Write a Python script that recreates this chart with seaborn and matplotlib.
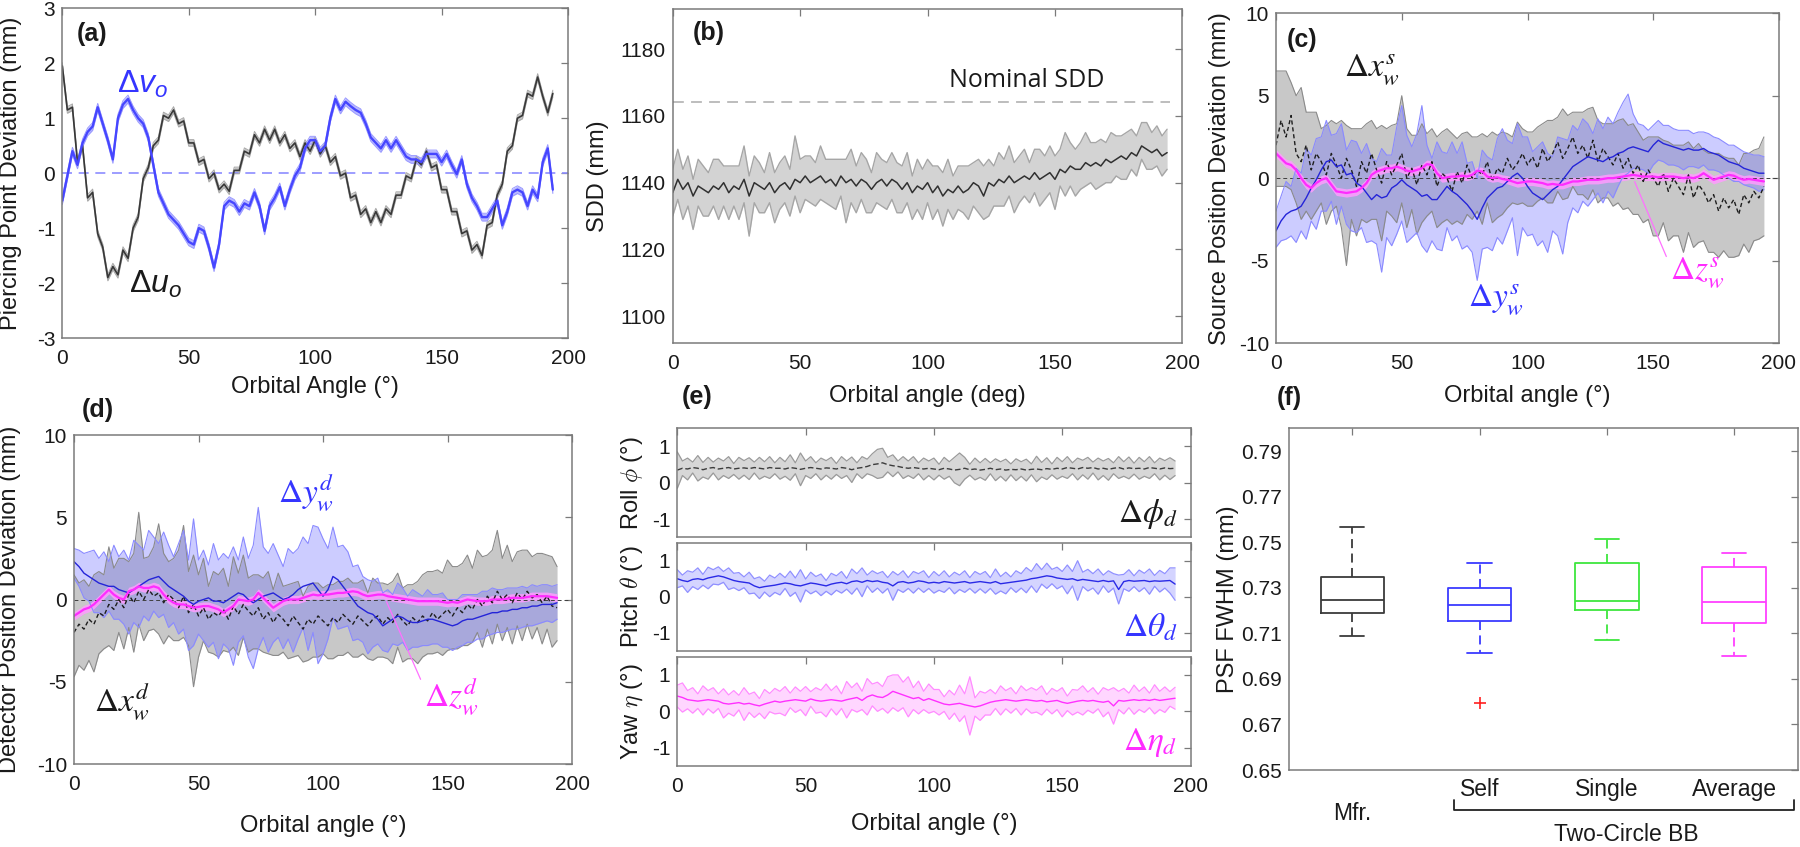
import numpy as np
import matplotlib
matplotlib.use("Agg")
import matplotlib.pyplot as plt
import seaborn as sns

# orbital angle grid shared by all traces (deg)
ANGLE = np.arange(0, 196, 2)

# (a) piercing point deviation (mm)
DU_O = [1.95, 1.15, 1.2, 0.2, 0.5, -0.45, -0.35, -1.1, -1.35, -1.9,
        -1.7, -1.85, -1.4, -1.55, -1.0, -0.8, -0.1, 0.1, 0.5, 0.6,
        1.05, 1.0, 1.15, 0.9, 0.95, 0.55, 0.55, 0.2, 0.25, -0.1,
        0.0, -0.3, -0.2, -0.33, 0.05, 0.05, 0.4, 0.35, 0.7, 0.55,
        0.8, 0.6, 0.8, 0.55, 0.7, 0.45, 0.55, 0.3, 0.55, 0.4,
        0.6, 0.35, 0.5, 0.2, 0.3, -0.05, 0.0, -0.45, -0.4, -0.75,
        -0.65, -0.9, -0.7, -0.9, -0.65, -0.75, -0.4, -0.4, -0.05, -0.1,
        0.25, 0.15, 0.4, 0.1, 0.15, -0.3, -0.3, -0.7, -0.7, -1.1,
        -1.05, -1.4, -1.3, -1.5, -0.95, -0.9, -0.4, -0.2, 0.4, 0.5,
        1.0, 1.05, 1.45, 1.4, 1.75, 1.4, 1.1, 1.45]
DV_O = [-0.5, -0.05, 0.4, 0.15, 0.55, 0.75, 0.85, 1.2, 0.9, 0.6,
        0.25, 1.0, 1.25, 1.35, 1.15, 1.0, 0.9, 0.65, 0.15, -0.35,
        -0.55, -0.75, -0.85, -0.95, -1.1, -1.25, -1.3, -1.0, -1.05, -1.35,
        -1.72, -1.3, -0.6, -0.5, -0.55, -0.7, -0.55, -0.6, -0.35, -0.6,
        -1.05, -0.6, -0.45, -0.25, -0.6, -0.3, -0.05, 0.1, 0.45, 0.6,
        0.6, 0.4, 0.5, 1.0, 1.35, 1.15, 1.3, 1.22, 1.15, 1.1,
        0.9, 0.65, 0.55, 0.45, 0.6, 0.45, 0.6, 0.45, 0.3, 0.25,
        0.25, 0.2, 0.35, 0.35, 0.35, 0.2, 0.35, 0.15, -0.02, 0.25,
        -0.2, -0.45, -0.6, -0.8, -0.8, -0.65, -0.5, -0.95, -0.7, -0.35,
        -0.3, -0.35, -0.6, -0.3, -0.45, 0.2, 0.45, -0.3]
DU_BAND = 0.06
DV_BAND = 0.07

# (b) source-detector distance (mm)
SDD_MEAN = [1137, 1141, 1138, 1140, 1136, 1139, 1138, 1137, 1139, 1138,
            1140, 1137, 1139, 1138, 1141, 1136, 1140, 1139, 1138, 1140,
            1137, 1139, 1140, 1138, 1141, 1140, 1142, 1140, 1141, 1142,
            1140, 1141, 1139, 1142, 1140, 1141, 1139, 1141, 1140, 1138,
            1140, 1141, 1139, 1141, 1140, 1138, 1140, 1137, 1139, 1138,
            1140, 1137, 1139, 1136, 1138, 1137, 1139, 1137, 1138, 1140,
            1139, 1136, 1140, 1139, 1141, 1140, 1142, 1140, 1141, 1142,
            1141, 1143, 1141, 1142, 1143, 1141, 1144, 1143, 1145, 1144,
            1144, 1146, 1145, 1146, 1145, 1147, 1146, 1147, 1148, 1147,
            1149, 1148, 1151, 1150, 1149, 1150, 1148, 1149]
SDD_UP = [7, 9, 6, 8, 5, 8, 7, 6, 8, 9,
          5, 8, 6, 7, 10, 6, 8, 7, 5, 9,
          6, 7, 8, 6, 13, 7, 6, 8, 5, 9,
          7, 6, 8, 5, 7, 9, 6, 8, 7, 5,
          9, 6, 7, 8, 6, 7, 9, 5, 8, 6,
          7, 8, 6, 7, 9, 5, 6, 8, 7, 6,
          8, 9, 7, 6, 8, 7, 9, 6, 7, 8,
          5, 7, 9, 6, 8, 7, 6, 12, 7, 6,
          8, 9, 7, 6, 8, 5, 9, 7, 6, 8,
          7, 6, 7, 8, 6, 7, 6, 7]
SDD_DN = [7, 6, 9, 7, 10, 6, 8, 7, 6, 9,
          7, 8, 6, 9, 7, 12, 6, 8, 7, 6,
          9, 7, 6, 8, 5, 9, 7, 6, 8, 7,
          6, 8, 7, 6, 12, 7, 8, 6, 9, 7,
          6, 8, 7, 6, 9, 7, 6, 8, 7, 9,
          6, 8, 7, 9, 6, 8, 7, 6, 9, 7,
          8, 7, 10, 6, 8, 7, 6, 9, 7, 6,
          7, 6, 8, 7, 6, 9, 5, 7, 6, 8,
          6, 7, 5, 8, 6, 7, 6, 5, 7, 6,
          5, 6, 4, 6, 5, 5, 6, 5]
NOMINAL_SDD = 1164.2

# (c) source position deviation (mm)
SX_MEAN = [2.0, 3.5, 2.5, 3.8, 1.5, 1.0, 2.0, 0.5, 1.5, 1.0,
           0.2, 1.5, 0.8, 0.0, 1.2, 0.5, -0.5, 1.0, 0.3, 1.5,
           0.5, -0.3, 1.0, 0.2, 0.8, 1.5, 0.0, 0.6, -0.4, 0.8,
           0.2, 1.0, -0.5, 0.3, 0.0, -0.8, 0.4, -0.3, 0.8, 0.0,
           0.5, 0.2, 1.0, -0.2, 0.6, 0.3, 1.2, 0.5, 0.9, 1.5,
           0.8, 1.3, 0.6, 1.8, 1.0, 1.5, 2.2, 1.2, 1.8, 2.5,
           1.5, 2.0, 1.2, 2.3, 1.0, 1.8, 1.3, 0.8, 1.5, 0.6,
           1.2, 0.3, 0.8, -0.2, 0.5, 0.0, -0.5, 0.3, -0.8, 0.0,
           -0.5, -1.0, 0.2, -1.2, -0.4, -0.8, -1.5, -1.0, -2.0, -1.2,
           -1.8, -1.3, -2.2, -1.0, -1.5, -0.8, -1.2, -0.5]
SX_UP = [4.5, 3.0, 4.0, 2.0, 3.5, 4.5, 2.0, 3.5, 2.5, 2.0,
         3.0, 2.0, 2.5, 3.5, 2.0, 2.5, 3.5, 2.0, 3.0, 2.0,
         2.5, 3.5, 2.0, 3.0, 2.5, 3.5, 3.0, 2.0, 3.0, 2.5,
         2.5, 2.0, 3.0, 2.5, 3.0, 3.5, 2.0, 3.0, 2.0, 2.5,
         2.0, 2.5, 1.5, 3.0, 2.0, 2.5, 1.5, 2.0, 2.5, 1.5,
         2.0, 1.5, 2.5, 1.5, 2.5, 2.0, 1.5, 3.0, 2.0, 1.5,
         2.5, 2.0, 3.0, 2.0, 2.5, 1.5, 2.0, 2.5, 2.0, 3.0,
         2.0, 3.0, 2.0, 2.5, 2.0, 2.5, 3.0, 2.0, 3.0, 2.0,
         2.5, 3.0, 2.0, 3.0, 2.5, 2.5, 3.0, 2.5, 3.5, 2.5,
         3.0, 2.5, 3.0, 2.5, 3.0, 2.5, 3.0, 3.0]
SX_DN = [2.5, 4.0, 3.0, 4.5, 3.0, 3.5, 4.0, 3.0, 3.5, 2.5,
         3.0, 3.5, 2.5, 3.0, 6.5, 3.0, 3.0, 3.5, 3.0, 4.0,
         3.0, 3.5, 3.0, 2.5, 3.5, 3.0, 3.0, 2.5, 3.0, 3.5,
         2.5, 3.0, 2.5, 3.0, 2.5, 2.0, 3.0, 2.5, 3.0, 2.5,
         2.5, 3.0, 2.5, 2.5, 3.0, 2.5, 3.0, 2.0, 2.5, 3.0,
         2.5, 3.0, 2.0, 3.0, 2.5, 3.0, 3.0, 2.5, 3.0, 3.0,
         2.5, 3.0, 2.5, 3.0, 2.5, 3.0, 2.5, 2.5, 3.0, 2.5,
         3.0, 2.5, 3.0, 2.5, 3.0, 3.5, 3.0, 3.0, 3.0, 3.5,
         3.0, 3.5, 3.5, 3.0, 3.5, 3.0, 3.0, 3.5, 2.8, 3.2,
         3.0, 3.5, 2.5, 3.0, 3.0, 3.0, 2.5, 3.0]
SY_MEAN = [-3.2, -2.6, -2.2, -2.0, -1.9, -1.7, -1.2, -0.6, -0.1, 0.5,
           1.0, 1.1, 0.7, 0.8, 0.2, 0.3, -0.3, -0.5, -0.9, -1.3,
           -1.0, -1.2, -1.1, -0.6, -0.4, -0.1, -0.4, -0.6, -0.8, -1.1,
           -1.0, -1.3, -1.3, -0.9, -0.5, -0.8, -1.0, -1.3, -1.6, -2.0,
           -2.5, -1.8, -1.2, -0.9, -0.6, -0.5, -0.2, 0.1, 0.3, 0.0,
           -0.5, -0.9, -1.1, -1.3, -1.0, -0.7, -0.5, -0.1, 0.3, 0.7,
           0.9, 1.1, 1.3, 1.2, 1.1, 1.0, 1.2, 1.3, 1.5, 1.6,
           1.8, 1.9, 1.8, 1.7, 1.6, 2.0, 2.3, 2.1, 2.0, 1.9,
           1.8, 1.7, 1.8, 1.7, 1.7, 1.8, 1.6, 1.5, 1.4, 1.2,
           1.0, 0.9, 0.8, 0.6, 0.5, 0.4, 0.3, 0.3]
SY_UP = [1.2, 1.5, 2.0, 1.5, 2.5, 2.0, 3.0, 2.0, 2.5, 2.0,
         2.5, 1.5, 2.0, 2.5, 1.5, 2.0, 2.5, 2.0, 3.0, 2.5,
         2.0, 3.0, 2.5, 2.0, 3.5, 4.5, 3.0, 2.5, 3.5, 5.5,
         3.0, 2.5, 3.5, 2.5, 2.0, 3.0, 2.5, 3.5, 2.5, 3.0,
         2.5, 3.5, 2.5, 2.0, 3.0, 3.5, 2.5, 2.0, 3.0, 2.5,
         3.0, 2.5, 3.0, 3.5, 2.5, 2.0, 3.0, 2.5, 2.0, 2.5,
         2.0, 2.5, 2.0, 1.5, 2.5, 2.0, 2.5, 2.0, 2.5, 3.0,
         3.3, 2.0, 1.5, 1.5, 1.3, 1.2, 1.2, 1.1, 1.2, 1.1,
         1.1, 1.2, 1.1, 1.0, 1.1, 1.0, 1.1, 1.0, 1.0, 1.0,
         1.0, 1.1, 1.0, 1.0, 1.0, 1.0, 1.1, 1.0]
SY_DN = [1.0, 1.2, 1.5, 1.5, 2.0, 1.5, 2.5, 2.0, 3.0, 2.5,
         3.0, 2.5, 3.5, 2.5, 3.0, 3.5, 3.0, 2.5, 3.0, 2.5,
         3.0, 4.5, 2.5, 3.5, 3.0, 2.5, 3.5, 3.0, 2.5, 3.0,
         3.5, 2.5, 3.0, 3.5, 2.5, 3.0, 2.5, 3.0, 2.5, 2.5,
         3.7, 2.5, 3.0, 3.5, 3.0, 3.5, 3.0, 2.5, 5.0, 3.0,
         3.0, 2.5, 3.0, 2.5, 3.5, 2.5, 3.0, 4.5, 3.0, 2.5,
         3.0, 2.5, 3.0, 2.5, 2.0, 2.5, 2.0, 2.5, 2.0, 1.5,
         1.5, 1.3, 1.2, 1.2, 1.3, 1.2, 1.2, 1.1, 1.2, 1.1,
         1.1, 1.2, 1.1, 1.0, 1.1, 1.0, 1.1, 1.0, 1.0, 1.0,
         1.0, 1.1, 1.0, 1.0, 1.0, 1.0, 1.1, 1.0]
SZ_MEAN = [1.5, 1.2, 0.9, 0.8, 0.5, 0.0, -0.4, -0.6, -0.3, -0.1,
           0.0, -0.4, -0.8, -0.85, -0.9, -0.85, -0.8, -0.6, -0.3, 0.2,
           0.4, 0.5, 0.6, 0.6, 0.7, 0.6, 0.45, 0.4, 0.5, 0.6,
           0.85, 0.8, 0.3, 0.0, 0.05, 0.1, 0.1, 0.15, 0.1, 0.2,
           0.45, 0.4, 0.1, 0.0, 0.05, -0.05, -0.1, -0.2, -0.3, -0.25,
           -0.2, -0.2, -0.25, -0.3, -0.4, -0.35, -0.4, -0.4, -0.3, -0.2,
           -0.2, -0.15, -0.1, -0.1, -0.1, -0.05, 0.0, 0.0, 0.05, 0.1,
           0.15, 0.2, 0.15, 0.1, 0.1, 0.1, 0.05, 0.1, 0.1, 0.1,
           0.05, 0.0, 0.05, 0.0, 0.1, 0.3, 0.1, -0.1, 0.0, 0.1,
           0.2, 0.15, 0.0, -0.1, -0.05, -0.1, -0.15, -0.2]
SZ_BAND = 0.25

# (d) detector position deviation (mm)
DX_MEAN = [-2.0, -1.5, -1.8, -1.2, -1.5, -0.8, -1.0, -0.3, -0.6, 0.0,
           -0.5, 0.3, -0.2, 0.5, 0.0, 0.6, 0.2, 0.4, -0.2, 0.3,
           0.0, -0.5, 0.2, -0.8, -0.3, -1.0, -0.5, -1.2, -0.8, -1.0,
           -0.6, -1.2, -0.4, -0.9, -0.3, -0.7, -1.0, -0.5, -1.2, -0.8,
           -1.4, -0.9, -1.2, -1.6, -1.0, -1.4, -1.8, -1.2, -1.5, -1.0,
           -1.3, -1.6, -1.1, -1.4, -0.9, -1.2, -1.5, -1.0, -1.3, -1.6,
           -1.2, -1.0, -1.5, -1.1, -1.4, -0.9, -1.3, -1.6, -1.1, -1.4,
           -1.0, -1.3, -0.8, -1.2, -0.9, -0.6, -1.0, -0.5, -0.8, -0.3,
           -0.6, 0.0, -0.4, 0.2, -0.2, 0.5, 0.0, 0.3, -0.2, 0.4,
           0.0, 0.5, 0.1, 0.3, -0.2, 0.2, -0.4, -0.5]
DX_UP = [3.5, 2.5, 3.0, 2.0, 3.0, 2.5, 2.5, 3.5, 2.5, 2.5,
         3.0, 2.0, 3.0, 4.8, 2.5, 2.0, 3.0, 4.2, 3.0, 2.0,
         2.5, 3.5, 4.3, 2.5, 3.0, 2.5, 3.0, 2.0, 2.5, 2.5,
         2.5, 2.0, 3.0, 2.5, 3.0, 2.0, 2.5, 2.0, 2.5, 2.5,
         2.0, 2.5, 2.0, 2.5, 2.0, 2.5, 2.0, 2.0, 2.5, 2.0,
         2.0, 2.5, 2.0, 2.5, 2.0, 2.5, 2.5, 2.0, 2.5, 2.0,
         2.5, 2.0, 2.5, 2.0, 2.5, 2.5, 2.0, 2.5, 2.0, 2.5,
         2.5, 3.0, 2.5, 3.0, 2.5, 3.0, 3.0, 2.5, 3.0, 3.0,
         2.5, 3.0, 3.0, 2.5, 3.2, 3.7, 2.5, 3.0, 2.5, 2.5,
         3.0, 2.5, 2.5, 2.5, 3.0, 2.5, 3.0, 2.5]
DX_DN = [2.7, 2.5, 2.5, 2.5, 2.9, 2.5, 2.0, 2.5, 2.5, 2.0,
         2.5, 2.0, 3.0, 2.0, 2.5, 2.5, 2.0, 2.5, 2.5, 2.5,
         2.5, 2.0, 2.5, 2.0, 5.0, 2.5, 2.0, 2.0, 2.5, 2.5,
         2.5, 2.0, 2.5, 2.5, 2.0, 2.5, 2.0, 2.5, 2.0, 2.5,
         2.0, 2.5, 2.0, 2.0, 2.5, 2.0, 2.0, 2.5, 2.0, 2.5,
         2.0, 2.0, 2.5, 2.0, 2.5, 2.0, 2.0, 2.5, 2.0, 2.0,
         2.5, 2.5, 2.0, 2.5, 2.5, 2.0, 2.5, 2.0, 2.5, 2.5,
         2.5, 2.0, 2.5, 2.0, 2.5, 2.5, 2.0, 2.5, 2.0, 2.5,
         2.0, 2.0, 2.5, 2.0, 2.5, 2.0, 2.5, 2.0, 2.5, 2.0,
         2.5, 2.0, 2.5, 2.0, 2.5, 2.0, 2.5, 2.0]
DY_MEAN = [2.3, 2.0, 1.6, 1.4, 1.2, 1.0, 0.9, 0.8, 0.8, 0.6,
           0.5, 0.4, 0.6, 0.8, 1.0, 1.2, 1.3, 1.4, 1.1, 0.8,
           0.6, 0.4, 0.2, -0.1, -0.3, -0.1, 0.0, 0.1, -0.1, -0.1,
           -0.2, 0.0, 0.2, 0.4, 0.3, 0.0, -0.2, 0.0, 0.2, 0.3,
           0.4, 0.2, 0.0, 0.1, 0.3, 0.6, 0.8, 0.9, 1.0, 0.6,
           0.2, 0.6, 1.4, 1.2, 0.8, 0.4, 0.0, -0.4, -0.6, -0.8,
           -0.9, -1.2, -1.6, -1.4, -1.2, -1.0, -1.1, -1.3, -1.4, -1.4,
           -1.3, -1.2, -1.2, -1.3, -1.4, -1.5, -1.6, -1.5, -1.3, -1.2,
           -1.2, -1.1, -1.0, -0.9, -0.8, -0.8, -0.7, -0.7, -0.6, -0.6,
           -0.5, -0.5, -0.4, -0.4, -0.3, -0.3, -0.3, -0.2]
DY_UP = [0.8, 1.0, 1.2, 1.5, 1.8, 1.5, 2.0, 1.5, 2.5, 2.0,
         2.5, 2.0, 3.0, 2.5, 2.0, 3.0, 2.5, 2.0, 3.0, 2.5,
         2.0, 3.0, 4.0, 2.5, 5.2, 2.5, 3.0, 2.0, 3.5, 2.5,
         3.0, 2.5, 3.0, 2.0, 3.5, 2.5, 3.5, 5.6, 3.0, 2.5,
         3.0, 2.5, 2.0, 3.0, 2.5, 2.5, 3.0, 2.5, 3.5, 3.8,
         3.5, 2.5, 3.0, 2.0, 2.5, 2.5, 2.0, 2.5, 2.0, 2.0,
         2.0, 2.5, 2.0, 2.0, 1.5, 2.0, 1.8, 1.5, 2.0, 1.8,
         1.5, 1.8, 1.5, 1.6, 1.8, 1.5, 1.6, 1.5, 1.6, 1.5,
         1.5, 1.4, 1.5, 1.4, 1.5, 1.4, 1.3, 1.4, 1.3, 1.3,
         1.3, 1.2, 1.3, 1.2, 1.2, 1.2, 1.1, 1.1]
DY_DN = [1.0, 1.2, 1.5, 1.5, 2.0, 1.8, 2.0, 1.5, 2.0, 1.8,
         2.0, 2.5, 2.0, 2.5, 2.0, 2.5, 2.0, 2.5, 2.0, 2.5,
         2.0, 2.5, 2.0, 3.0, 2.5, 2.0, 2.5, 3.0, 2.5, 3.5,
         2.5, 3.0, 4.2, 3.0, 2.5, 3.5, 4.0, 3.0, 2.5, 3.5,
         3.0, 2.5, 3.0, 2.5, 3.5, 3.0, 2.5, 4.0, 3.0, 4.5,
         3.5, 3.0, 2.5, 3.0, 2.5, 2.0, 2.5, 2.0, 2.0, 2.5,
         2.0, 1.5, 1.5, 1.8, 1.5, 1.8, 1.5, 1.8, 1.5, 1.5,
         1.5, 1.6, 1.5, 1.4, 1.5, 1.4, 1.5, 1.4, 1.5, 1.4,
         1.4, 1.3, 1.4, 1.3, 1.3, 1.2, 1.3, 1.2, 1.2, 1.2,
         1.2, 1.1, 1.2, 1.1, 1.1, 1.0, 1.1, 1.0]
DZ_MEAN = [-1.0, -0.8, -0.6, -0.5, -0.3, 0.0, 0.3, 0.6, 0.3, 0.1,
           0.0, 0.5, 0.6, 0.8, 0.7, 0.7, 0.8, 0.7, 0.3, 0.0,
           -0.2, -0.3, -0.3, -0.4, -0.5, -0.45, -0.4, -0.4, -0.5, -0.6,
           -0.8, -0.6, -0.4, 0.0, -0.05, -0.1, 0.0, 0.4, 0.1, -0.2,
           -0.5, -0.3, -0.1, 0.0, 0.0, 0.0, 0.1, 0.2, 0.3, 0.25,
           0.3, 0.3, 0.35, 0.4, 0.4, 0.45, 0.5, 0.45, 0.3, 0.2,
           0.25, 0.3, 0.3, 0.2, 0.15, 0.1, 0.05, 0.0, -0.05, -0.1,
           -0.1, -0.1, -0.1, -0.1, -0.15, -0.2, -0.15, -0.2, -0.1, 0.0,
           -0.05, -0.1, -0.1, -0.1, 0.0, 0.0, 0.0, 0.05, 0.1, 0.1,
           0.1, 0.15, 0.2, 0.2, 0.2, 0.2, 0.15, 0.1]
DZ_BAND = 0.25

# (e) detector rotation (deg)
ROLL = [0.35, 0.4, 0.38, 0.42, 0.4, 0.36, 0.4, 0.42, 0.38, 0.4,
        0.42, 0.38, 0.4, 0.41, 0.39, 0.42, 0.4, 0.38, 0.42, 0.4,
        0.4, 0.38, 0.42, 0.4, 0.37, 0.4, 0.42, 0.4, 0.38, 0.41,
        0.4, 0.38, 0.42, 0.4, 0.36, 0.4, 0.42, 0.45, 0.5, 0.52,
        0.55, 0.5, 0.47, 0.45, 0.42, 0.4, 0.42, 0.4, 0.38, 0.4,
        0.38, 0.36, 0.4, 0.38, 0.35, 0.37, 0.4, 0.36, 0.38, 0.35,
        0.37, 0.4, 0.36, 0.38, 0.35, 0.37, 0.36, 0.38, 0.35, 0.37,
        0.38, 0.36, 0.39, 0.37, 0.4, 0.38, 0.42, 0.4, 0.38, 0.42,
        0.4, 0.42, 0.38, 0.4, 0.37, 0.4, 0.42, 0.38, 0.41, 0.39,
        0.4, 0.38, 0.42, 0.4, 0.38, 0.41, 0.39, 0.4]
ROLL_HW = [0.5, 0.2, 0.3, 0.15, 0.35, 0.2, 0.3, 0.15, 0.3, 0.2,
           0.3, 0.15, 0.3, 0.2, 0.3, 0.15, 0.3, 0.2, 0.3, 0.15,
           0.3, 0.2, 0.35, 0.15, 0.45, 0.2, 0.3, 0.15, 0.3, 0.2,
           0.3, 0.15, 0.3, 0.2, 0.35, 0.15, 0.3, 0.2, 0.3, 0.4,
           0.4, 0.2, 0.3, 0.15, 0.3, 0.2, 0.3, 0.15, 0.3, 0.2,
           0.3, 0.15, 0.3, 0.2, 0.35, 0.45, 0.3, 0.15, 0.3, 0.2,
           0.3, 0.15, 0.3, 0.2, 0.3, 0.15, 0.3, 0.2, 0.3, 0.15,
           0.35, 0.2, 0.3, 0.15, 0.3, 0.2, 0.3, 0.15, 0.3, 0.2,
           0.3, 0.15, 0.3, 0.2, 0.3, 0.15, 0.3, 0.2, 0.3, 0.15,
           0.3, 0.2, 0.3, 0.15, 0.3, 0.2, 0.3, 0.2]
PITCH = [0.5, 0.45, 0.42, 0.48, 0.5, 0.47, 0.52, 0.55, 0.58, 0.55,
         0.5, 0.45, 0.42, 0.4, 0.38, 0.3, 0.25, 0.28, 0.3, 0.32,
         0.35, 0.38, 0.36, 0.32, 0.3, 0.34, 0.38, 0.36, 0.33, 0.3,
         0.35, 0.38, 0.4, 0.36, 0.42, 0.44, 0.4, 0.45, 0.42, 0.44,
         0.4, 0.38, 0.3, 0.4, 0.42, 0.38, 0.4, 0.44, 0.42, 0.38,
         0.4, 0.38, 0.42, 0.4, 0.38, 0.4, 0.42, 0.38, 0.4, 0.42,
         0.4, 0.38, 0.42, 0.36, 0.38, 0.4, 0.42, 0.44, 0.46, 0.5,
         0.52, 0.55, 0.58, 0.56, 0.52, 0.5, 0.48, 0.5, 0.45, 0.48,
         0.46, 0.44, 0.42, 0.45, 0.42, 0.44, 0.2, 0.42, 0.45, 0.43,
         0.44, 0.45, 0.42, 0.44, 0.43, 0.44, 0.45, 0.35]
PITCH_HW = [0.25, 0.15, 0.3, 0.2, 0.3, 0.15, 0.3, 0.2, 0.25, 0.15,
            0.3, 0.2, 0.25, 0.15, 0.3, 0.2, 0.3, 0.15, 0.3, 0.2,
            0.3, 0.15, 0.35, 0.2, 0.45, 0.15, 0.3, 0.2, 0.3, 0.15,
            0.3, 0.2, 0.3, 0.15, 0.35, 0.2, 0.4, 0.15, 0.3, 0.2,
            0.3, 0.15, 0.4, 0.2, 0.3, 0.15, 0.3, 0.2, 0.3, 0.15,
            0.3, 0.2, 0.3, 0.15, 0.3, 0.2, 0.3, 0.15, 0.3, 0.2,
            0.3, 0.15, 0.35, 0.2, 0.3, 0.15, 0.3, 0.2, 0.35, 0.2,
            0.4, 0.2, 0.35, 0.2, 0.3, 0.2, 0.4, 0.2, 0.55, 0.2,
            0.3, 0.2, 0.35, 0.15, 0.3, 0.2, 0.4, 0.2, 0.3, 0.15,
            0.3, 0.2, 0.35, 0.15, 0.3, 0.2, 0.35, 0.45]
YAW = [0.42, 0.38, 0.32, 0.3, 0.28, 0.3, 0.32, 0.3, 0.28, 0.22,
       0.2, 0.22, 0.24, 0.2, 0.22, 0.18, 0.15, 0.2, 0.24, 0.28,
       0.25, 0.28, 0.3, 0.32, 0.3, 0.28, 0.34, 0.3, 0.28, 0.3,
       0.32, 0.3, 0.28, 0.32, 0.35, 0.38, 0.3, 0.4, 0.45, 0.4,
       0.38, 0.45, 0.55, 0.5, 0.45, 0.4, 0.35, 0.38, 0.3, 0.35,
       0.3, 0.25, 0.2, 0.18, 0.2, 0.22, 0.18, 0.15, 0.12, 0.15,
       0.2, 0.25, 0.28, 0.3, 0.32, 0.3, 0.28, 0.3, 0.32, 0.3,
       0.28, 0.3, 0.26, 0.28, 0.3, 0.25, 0.22, 0.25, 0.28, 0.3,
       0.28, 0.3, 0.27, 0.25, 0.28, 0.15, 0.3, 0.28, 0.3, 0.32,
       0.3, 0.32, 0.3, 0.33, 0.3, 0.32, 0.34, 0.36]
YAW_HW = [0.3, 0.4, 0.25, 0.35, 0.2, 0.4, 0.25, 0.35, 0.2, 0.4,
          0.25, 0.35, 0.2, 0.45, 0.25, 0.35, 0.2, 0.4, 0.25, 0.35,
          0.3, 0.4, 0.2, 0.35, 0.25, 0.4, 0.2, 0.35, 0.3, 0.45,
          0.25, 0.4, 0.2, 0.5, 0.3, 0.4, 0.25, 0.5, 0.3, 0.4,
          0.3, 0.5, 0.45, 0.5, 0.35, 0.55, 0.3, 0.45, 0.25, 0.4,
          0.3, 0.35, 0.2, 0.4, 0.25, 0.5, 0.3, 0.8, 0.25, 0.4,
          0.3, 0.35, 0.2, 0.4, 0.25, 0.35, 0.2, 0.4, 0.25, 0.35,
          0.3, 0.4, 0.2, 0.35, 0.25, 0.4, 0.2, 0.35, 0.3, 0.4,
          0.25, 0.35, 0.2, 0.4, 0.3, 0.5, 0.25, 0.35, 0.2, 0.4,
          0.25, 0.35, 0.2, 0.4, 0.25, 0.35, 0.2, 0.3]

# (f) PSF FWHM box statistics (mm)
BOX_NAMES = ["Mfr.", "Self", "Single", "Average"]
BOX_WHISLO = [0.7088, 0.7015, 0.7069, 0.6999]
BOX_Q1 = [0.7188, 0.7156, 0.7203, 0.7147]
BOX_MED = [0.7247, 0.7226, 0.7244, 0.7239]
BOX_Q3 = [0.7349, 0.7299, 0.7407, 0.7390]
BOX_WHISHI = [0.7565, 0.7409, 0.7515, 0.7451]
BOX_FLIERS = [[], [0.6792], [], []]

for arr in (DU_O, DV_O, SDD_MEAN, SDD_UP, SDD_DN, SX_MEAN, SX_UP, SX_DN,
            SY_MEAN, SY_UP, SY_DN, SZ_MEAN, DX_MEAN, DX_UP, DX_DN, DY_MEAN,
            DY_UP, DY_DN, DZ_MEAN, ROLL, ROLL_HW, PITCH, PITCH_HW, YAW, YAW_HW):
    assert len(arr) == len(ANGLE), len(arr)

sns.set_style("white")
plt.rcParams["font.family"] = ["Liberation Sans", "DejaVu Sans"]
plt.rcParams["axes.unicode_minus"] = False
plt.rcParams["mathtext.fontset"] = "custom"
plt.rcParams["mathtext.rm"] = "Liberation Sans"
plt.rcParams["mathtext.it"] = "Liberation Sans:italic"

FRAME = "#7a7a7a"
TXT = "#1a1a1a"
BLUE = "#3535ff"
MAGENTA = "#ff2cff"
W, H = 1800.0, 847.0

fig = plt.figure(figsize=(18, 8.47), dpi=100)


def add_ax(left, right, top, bottom):
    return fig.add_axes([left / W, 1 - bottom / H, (right - left) / W, (bottom - top) / H])


def style(ax, ylim, yticks, xlim=(0, 200), xticks=(0, 50, 100, 150, 200)):
    ax.set_xlim(*xlim)
    ax.set_ylim(*ylim)
    ax.set_xticks(list(xticks))
    ax.set_yticks(list(yticks))
    ax.tick_params(direction="in", top=True, right=True, length=5, width=0.9,
                   color=FRAME, labelsize=15, labelcolor=TXT)
    ax.tick_params(axis="x", pad=8)
    ax.tick_params(axis="y", pad=5)
    for sp in ax.spines.values():
        sp.set_visible(True)
        sp.set_color(FRAME)
        sp.set_linewidth(1.1)


def band(ax, lo, hi, fill, edge, alpha, lw=0.8):
    ax.fill_between(ANGLE, lo, hi, facecolor=fill, alpha=alpha, linewidth=0)
    ax.plot(ANGLE, lo, color=edge, lw=lw)
    ax.plot(ANGLE, hi, color=edge, lw=lw)


def line(ax, y, color, lw, ls="-"):
    sns.lineplot(x=ANGLE, y=np.asarray(y, dtype=float), ax=ax, color=color,
                 linewidth=lw, linestyle=ls)


def ylab(ax, text, xpos, **kw):
    ax.set_ylabel(text, fontsize=17, color=TXT, **kw)
    ax.yaxis.set_label_coords(xpos, 0.5)


def xlab(ax, text, ypos):
    ax.set_xlabel(text, fontsize=17, color=TXT)
    ax.xaxis.set_label_coords(0.5, ypos)


def tag(ax, s, x, y):
    ax.text(x, y, s, transform=ax.transAxes, fontsize=18, fontweight="bold",
            ha="left", va="center", color=TXT)


# ---- (a) piercing point ----
ax = add_ax(62.3, 568, 8.3, 338)
du, dv = np.array(DU_O), np.array(DV_O)
ax.axhline(0, color="#8c8cff", lw=1.2, ls=(0, (6, 4)))
band(ax, du - DU_BAND, du + DU_BAND, "#b4b4b4", "#a8a8a8", 0.8, lw=0.7)
band(ax, dv - DV_BAND, dv + DV_BAND, "#a8a8ff", "#9a9aff", 0.8, lw=0.7)
line(ax, du, "#383838", 1.2)
line(ax, dv, "#4646ff", 1.7)
style(ax, (-3, 3), range(-3, 4))
ylab(ax, "Piercing Point Deviation (mm)", -0.08)
xlab(ax, "Orbital Angle (°)", -0.115)
tag(ax, "(a)", 0.028, 0.922)
ax.text(21.6, 1.62, r"$\Delta v_o$", color=BLUE, fontsize=23, va="center")
ax.text(26.5, -2.03, r"$\Delta u_o$", color=TXT, fontsize=23, va="center")

# ---- (b) SDD ----
ax = add_ax(672.7, 1182.4, 9, 343)
sm = np.array(SDD_MEAN, dtype=float)
band(ax, sm - np.array(SDD_DN), sm + np.array(SDD_UP), "#cfcfcf", "#a6a6a6", 0.9, lw=1.0)
line(ax, sm, "#303030", 1.1)
ax.plot([0, 195], [NOMINAL_SDD, NOMINAL_SDD], color="#b8b8b8", lw=1.3, ls=(0, (6, 4)))
ax.text(138.8, 1170.7, "Nominal SDD", fontsize=18, family="Open Sans", ha="center",
        va="center", color=TXT)
style(ax, (1092, 1192), range(1100, 1181, 20))
ylab(ax, "SDD (mm)", -0.125)
xlab(ax, "Orbital angle (deg)", -0.126)
tag(ax, "(b)", 0.039, 0.928)

# ---- (c) source position ----
ax = add_ax(1276, 1779, 13.3, 343)
sx, sy, sz = np.array(SX_MEAN), np.array(SY_MEAN), np.array(SZ_MEAN)
ax.axhline(0, color="#404040", lw=0.7, ls=(0, (4, 3)))
band(ax, sx - np.array(SX_DN), sx + np.array(SX_UP), "#9c9c9c", "#8a8a8a", 0.55)
band(ax, sy - np.array(SY_DN), sy + np.array(SY_UP), "#6e6eff", "#8a8aff", 0.35)
line(ax, sx, "#1e1e1e", 1.0, ls=(0, (3, 2)))
line(ax, sy, "#2424d8", 1.0)
ax.fill_between(ANGLE, sz - SZ_BAND, sz + SZ_BAND, facecolor="#ff9cff", alpha=0.85, linewidth=0)
line(ax, sz, MAGENTA, 1.6)
style(ax, (-10, 10), (-10, -5, 0, 5, 10))
ylab(ax, "Source Position Deviation (mm)", -0.089)
xlab(ax, "Orbital angle (°)", -0.127)
tag(ax, "(c)", 0.021, 0.919)
ax.text(27, 6.56, r"$\Delta x_w^s$", color=TXT, fontsize=24, va="center",
        math_fontfamily="stix")
ax.text(76.5, -7.39, r"$\Delta y_w^s$", color=BLUE, fontsize=24, va="center",
        math_fontfamily="stix")
ax.annotate(r"$\Delta z_w^s$", xy=(142.6, -0.21), xytext=(156.5, -5.75),
            color=MAGENTA, fontsize=24, va="center", math_fontfamily="stix",
            arrowprops=dict(arrowstyle="-", color="#ff70ff", lw=0.9,
                            shrinkA=0, shrinkB=0, relpos=(0.0, 0.75)))

# ---- (d) detector position ----
ax = add_ax(74, 572, 435, 764)
dx, dy, dz = np.array(DX_MEAN), np.array(DY_MEAN), np.array(DZ_MEAN)
ax.axhline(0, color="#404040", lw=0.7, ls=(0, (4, 3)))
band(ax, dx - np.array(DX_DN), dx + np.array(DX_UP), "#9c9c9c", "#8a8a8a", 0.55)
band(ax, dy - np.array(DY_DN), dy + np.array(DY_UP), "#6e6eff", "#8a8aff", 0.35)
line(ax, dx, "#1e1e1e", 1.0, ls=(0, (3, 2)))
line(ax, dy, "#2424d8", 1.0)
ax.fill_between(ANGLE, dz - DZ_BAND, dz + DZ_BAND, facecolor="#ff9cff", alpha=0.85, linewidth=0)
line(ax, dz, MAGENTA, 1.6)
style(ax, (-10, 10), (-10, -5, 0, 5, 10))
ylab(ax, "Detector Position Deviation (mm)", -0.106)
xlab(ax, "Orbital angle (°)", -0.155)
tag(ax, "(d)", 0.015, 1.076)
ax.text(82, 6.47, r"$\Delta y_w^d$", color=BLUE, fontsize=24, va="center",
        math_fontfamily="stix")
ax.text(8, -6.23, r"$\Delta x_w^d$", color=TXT, fontsize=24, va="center",
        math_fontfamily="stix")
ax.annotate(r"$\Delta z_w^d$", xy=(125.5, -0.13), xytext=(140.5, -5.93),
            color=MAGENTA, fontsize=24, va="center", math_fontfamily="stix",
            arrowprops=dict(arrowstyle="-", color="#ff70ff", lw=0.9,
                            shrinkA=0, shrinkB=0, relpos=(0.0, 0.75)))

# ---- (e) detector rotation ----
rows = [
    (428.3, 537.3, ROLL, ROLL_HW, "#a8a8a8", "#9a9a9a", "#3c3c3c", (0, (4, 2)),
     r"Roll $\phi$ (°)", r"$\Delta\phi_d$", TXT),
    (542.7, 650.7, PITCH, PITCH_HW, "#a0a0ff", "#9090ff", "#2a2ae6", "-",
     r"Pitch $\theta$ (°)", r"$\Delta\theta_d$", BLUE),
    (656.7, 766, YAW, YAW_HW, "#ffa6ff", "#ff8cff", "#ff30ff", "-",
     r"Yaw $\eta$ (°)", r"$\Delta\eta_d$", MAGENTA),
]
for i, (top, bot, mean, hw, fill, edge, lc, ls, ytxt, tag_txt, tcol) in enumerate(rows):
    ax = add_ax(677.3, 1190.5, top, bot)
    m, h = np.array(mean), np.array(hw)
    band(ax, m - h, m + h, fill, edge, 0.45, lw=0.9)
    line(ax, m, lc, 1.0, ls=ls)
    style(ax, (-1.5, 1.5), (-1, 0, 1))
    ax.set_ylabel(ytxt, fontsize=17, color=TXT, math_fontfamily="cm")
    ax.yaxis.set_label_coords(-0.063, 0.5)
    ax.text(195, -0.85, tag_txt, color=tcol, fontsize=24, ha="right", va="center",
            math_fontfamily="stix")
    if i < 2:
        ax.tick_params(axis="x", labelbottom=False)
    else:
        xlab(ax, "Orbital angle (°)", -0.43)
    if i == 0:
        tag(ax, "(e)", 0.009, 1.287)

# ---- (f) PSF FWHM ----
ax = add_ax(1288.7, 1797.6, 428.3, 770)
stats = [dict(label=n, whislo=a, q1=b, med=c, q3=d, whishi=e, fliers=f)
         for n, a, b, c, d, e, f in zip(BOX_NAMES, BOX_WHISLO, BOX_Q1, BOX_MED,
                                        BOX_Q3, BOX_WHISHI, BOX_FLIERS)]
bp = ax.bxp(stats, positions=[1, 2, 3, 4], widths=0.5, capwidths=0.19, showfliers=True)
box_colors = ["#3a3a3a", "#3a3aff", "#3ee63e", "#ff40ff"]
for k, c in enumerate(box_colors):
    bp["boxes"][k].set(color=c, linewidth=1.3)
    bp["medians"][k].set(color=c, linewidth=1.3)
    for j in (2 * k, 2 * k + 1):
        bp["whiskers"][j].set(color=c, linewidth=1.3, linestyle=(0, (5, 3)))
        bp["caps"][j].set(color=c, linewidth=1.3)
    bp["fliers"][k].set(marker="+", markeredgecolor="#ff2020", markersize=8,
                        markeredgewidth=1.2)
style(ax, (0.65, 0.80), np.round(np.arange(0.65, 0.80, 0.02), 2),
      xlim=(0.5, 4.5), xticks=(1, 2, 3, 4))
ax.set_yticklabels([f"{v:.2f}" for v in np.arange(0.65, 0.80, 0.02)])
ax.set_xticklabels([])
ylab(ax, "PSF FWHM (mm)", -0.097)
tr = ax.get_xaxis_transform()
ax.text(1, -0.126, BOX_NAMES[0], transform=tr, fontsize=16.5, ha="center", va="center", color=TXT)
for pos, name in zip((2, 3, 4), BOX_NAMES[1:]):
    ax.text(pos, -0.058, name, transform=tr, fontsize=16.5, ha="center", va="center", color=TXT)
ax.plot([1.80, 1.80, 4.47, 4.47], [-0.088, -0.117, -0.117, -0.088], transform=tr,
        color="#222222", lw=1.3, clip_on=False)
ax.text(3.15, -0.19, "Two-Circle BB", transform=tr, fontsize=16.5, ha="center",
        va="center", color=TXT)
tag(ax, "(f)", -0.023, 1.089)

fig.savefig("out.png", dpi=100)
